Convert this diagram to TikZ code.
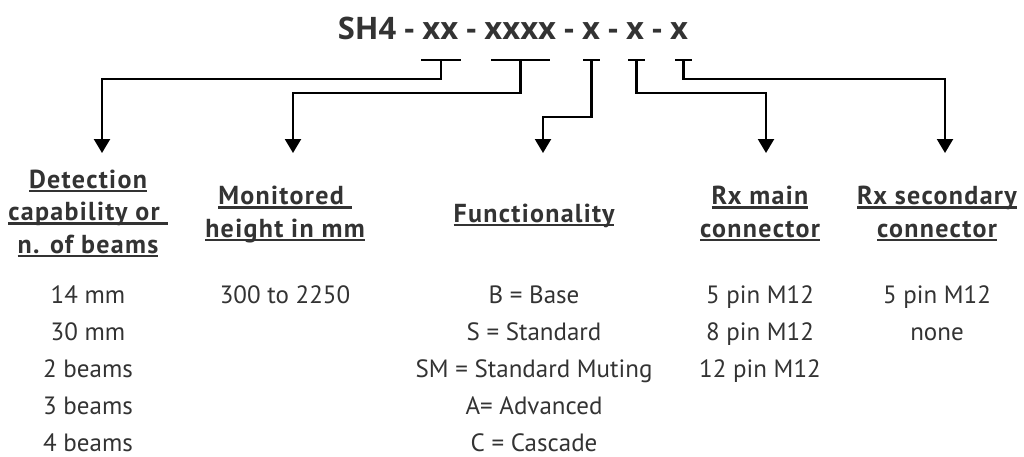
\documentclass[tikz,border=0pt]{standalone}
\usepackage{fontspec}
\usepackage{xcolor}
\usetikzlibrary{arrows.meta}

\setmainfont{PT Sans}
\newfontfamily\codefont{Open Sans}
\newfontfamily\headfont[LetterSpace=5]{PT Sans Bold}
\definecolor{ink}{HTML}{333333}

% underline drawn as a rule below the text
\newsavebox\ulbox
\newcommand\uln[1]{\sbox\ulbox{#1}\rlap{\rule[-4.4pt]{\wd\ulbox}{2.6pt}}\usebox\ulbox}

\begin{document}
\begin{tikzpicture}[x=1pt,y=-1pt,
		bar/.style={line width=2.2pt},
		lead/.style={line width=2.2pt,-{Triangle[width=16pt,length=14pt]}},
		head/.style={font=\headfont\fontsize{26}{32.5}\selectfont,text=ink,align=center,anchor=base,inner sep=0pt},
		item/.style={font=\fontsize{25}{37}\selectfont,text=ink,align=center,anchor=base,inner sep=0pt}]
	\useasboundingbox (0,0) rectangle (1024,456);

	\node[anchor=base,inner sep=0pt,text=ink,font=\codefont\bfseries\fontsize{31}{34}\selectfont] (code) at (513,39) {SH4 - xx - xxxx - x - x - x};

	% bars under the code letters
	\foreach \n/\a/\b in {1/421/461, 2/491/550, 3/583/600, 4/628/645, 5/675/692}{
		\draw[bar] (\a,60) -- (\b,60);
		\coordinate (c\n) at ({(\a+\b)/2},60);
	}

	% arrow tips above the headings
	\coordinate (t1) at (102,153);
	\coordinate (t2) at (293,153);
	\coordinate (t3) at (543,153);
	\coordinate (t4) at (766,153);
	\coordinate (t5) at (945,153);

	\draw[lead] (c1) -- ++(0,19) -| (t1);
	\draw[lead] (c2) -- ++(0,33) -| (t2);
	\draw[lead] (c3) -- ++(0,57) -| (t3);
	\draw[lead] (c4) -- ++(0,33) -| (t4);
	\draw[lead] (c5) -- ++(0,19) -| (t5);

	% headings (base = last line)
	\node[head] (hd1) at (88,253) {\uln{Detection}\\\uln{capability or\ }\\\uln{n. of beams}};
	\node[head] (hd2) at (285,237) {\uln{Monitored\ }\\\uln{height in mm}};
	\node[head] (hd3) at (534,222) {\uln{Functionality}};
	\node[head] (hd4) at (760,237) {\uln{Rx main}\\\uln{connector}};
	\node[head] (hd5) at (937,237) {\uln{Rx secondary}\\\uln{connector}};

	% values (base = last line)
	\node[item] (it1) at (88,451) {14 mm\\30 mm\\2 beams\\3 beams\\4 beams};
	\node[item] (it2) at (285,303) {300 to 2250};
	\node[item] (it3) at (534,451) {B = Base\\S = Standard\\SM = Standard Muting\\A= Advanced\\C = Cascade};
	\node[item] (it4) at (760,377) {5 pin M12\\8 pin M12\\12 pin M12};
	\node[item] (it5) at (937,340) {5 pin M12\\none};
\end{tikzpicture}
\end{document}
